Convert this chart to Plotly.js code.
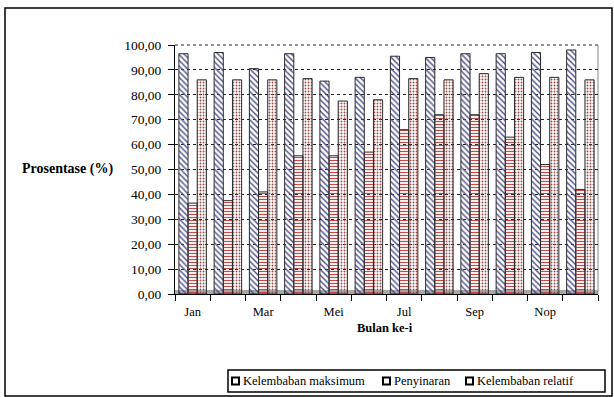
<!DOCTYPE html>
<html>
<head>
<meta charset="utf-8">
<script src="https://cdn.plot.ly/plotly-3.0.1.min.js"></script>
<style>
  html, body { margin: 0; padding: 0; background: #fff; }
  #chart { width: 614px; height: 397px; }
</style>
</head>
<body>
<div id="chart"></div>
<script>
// Monthly climate percentages
const bulan = ['Jan', 'Feb', 'Mar', 'Apr', 'Mei', 'Jun', 'Jul', 'Agu', 'Sep', 'Okt', 'Nop', 'Des'];
const labelBulan = ['Jan', '', 'Mar', '', 'Mei', '', 'Jul', '', 'Sep', '', 'Nop', ''];
const kelembabanMaksimum = [96.5, 97.0, 90.5, 96.5, 85.5, 87.0, 95.5, 95.0, 96.5, 96.5, 97.0, 98.0];
const penyinaran = [36.5, 37.5, 41.0, 55.5, 55.5, 57.0, 66.0, 72.0, 72.0, 63.0, 52.0, 42.0];
const kelembabanRelatif = [86.0, 86.0, 86.0, 86.5, 77.5, 78.0, 86.5, 86.0, 88.5, 87.0, 87.0, 86.0];
const yTicks = [0, 10, 20, 30, 40, 50, 60, 70, 80, 90, 100];
const namaSeri = ['Kelembaban maksimum', 'Penyinaran', 'Kelembaban relatif'];

const serif = 'Liberation Serif';
const outline = { color: '#2a2a2a', width: 1 };

const traces = [
  {
    type: 'bar', name: namaSeri[0], x: bulan, y: kelembabanMaksimum,
    marker: {
      color: '#d2d2f2', line: outline,
      pattern: { shape: '\\', fgcolor: '#4b4b8c', size: 4, solidity: 0.35 }
    }
  },
  {
    type: 'bar', name: namaSeri[1], x: bulan, y: penyinaran,
    marker: {
      color: '#fbeeee', line: outline,
      pattern: { shape: '-', fgcolor: '#c24a4a', size: 3, solidity: 0.4 }
    }
  },
  {
    type: 'bar', name: namaSeri[2], x: bulan, y: kelembabanRelatif,
    marker: {
      color: '#e3aeae', line: outline,
      pattern: { shape: '.', fgcolor: '#9c4a4a', size: 3, solidity: 0.3 }
    }
  }
];

// paper-coordinate helpers (plot area spans 175..598 x 45..294 px)
const PX = (px) => (px - 175) / 423;
const PY = (py) => (294 - py) / 249;

// legend key: boxed row of small square markers with labels
const legendKeys = [232, 383, 466];
const legendShapes = [
  { type: 'rect', xref: 'paper', yref: 'paper', x0: PX(228), x1: PX(605), y0: PY(392), y1: PY(370),
    line: { color: '#000', width: 1.5 }, fillcolor: '#fff', layer: 'above' }
];
const legendNotes = [];
legendKeys.forEach((kx, i) => {
  legendShapes.push({ type: 'rect', xref: 'paper', yref: 'paper',
    x0: PX(kx), x1: PX(kx + 7), y0: PY(384.5), y1: PY(377.5),
    line: { color: '#000', width: 2 }, fillcolor: '#fff', layer: 'above' });
  legendNotes.push({ text: namaSeri[i], xref: 'paper', yref: 'paper', x: PX(kx + 9), y: PY(381),
    xanchor: 'left', yanchor: 'middle', showarrow: false, font: { family: serif, size: 12.5 } });
});

const layout = {
  width: 614, height: 397,
  margin: { l: 175, r: 16, t: 45, b: 103, pad: 0 },
  paper_bgcolor: '#ffffff', plot_bgcolor: '#ffffff',
  separators: ',.',
  font: { family: serif, size: 12, color: '#000' },
  barmode: 'group', bargap: 0.22, bargroupgap: 0,
  showlegend: false,
  xaxis: {
    type: 'category', tickvals: bulan, ticktext: labelBulan, tickson: 'boundaries',
    ticks: 'outside', ticklen: 6, tickcolor: '#000', tickwidth: 1, ticklabelstandoff: 6,
    showline: true, linecolor: '#000', linewidth: 1,
    showgrid: false, tickfont: { family: serif, size: 12.5 }
  },
  yaxis: {
    range: [0, 100], tickvals: yTicks, tickformat: '.2f',
    ticks: 'outside', ticklen: 6, tickcolor: '#000', ticklabelstandoff: 4,
    showline: true, linecolor: '#000', linewidth: 1,
    showgrid: true, gridcolor: '#222', griddash: 'dot', gridwidth: 1,
    zeroline: false, tickfont: { family: serif, size: 13.5 }
  },
  shapes: [
    // outer frame
    { type: 'rect', xref: 'paper', yref: 'paper', x0: PX(5), x1: PX(612), y0: PY(396), y1: PY(8),
      line: { color: '#000', width: 1.5 }, fillcolor: 'rgba(0,0,0,0)', layer: 'below' },
    // floor strip
    { type: 'rect', xref: 'paper', yref: 'paper', x0: 0, x1: 1, y0: 0, y1: PY(290),
      line: { width: 0 }, fillcolor: '#a8a8a8', layer: 'below' },
    // back wall top edge and right edge
    { type: 'line', xref: 'paper', yref: 'paper', x0: 0, x1: 1, y0: 1, y1: 1,
      line: { color: '#222', width: 1, dash: 'dot' }, layer: 'below' },
    { type: 'line', xref: 'paper', yref: 'paper', x0: 1, x1: 1, y0: 0, y1: 1,
      line: { color: '#888', width: 1 }, layer: 'below' }
  ].concat(legendShapes),
  annotations: [
    { text: '<b>Prosentase (%)</b>', xref: 'paper', yref: 'paper', x: PX(67), y: PY(169),
      xanchor: 'center', yanchor: 'middle', showarrow: false, font: { family: serif, size: 14 } },
    { text: '<b>Bulan ke-i</b>', xref: 'paper', yref: 'paper', x: PX(385), y: PY(328),
      xanchor: 'center', yanchor: 'middle', showarrow: false, font: { family: serif, size: 12.5 } }
  ].concat(legendNotes)
};

Plotly.newPlot('chart', traces, layout, { displayModeBar: false, staticPlot: true });
</script>
</body>
</html>
